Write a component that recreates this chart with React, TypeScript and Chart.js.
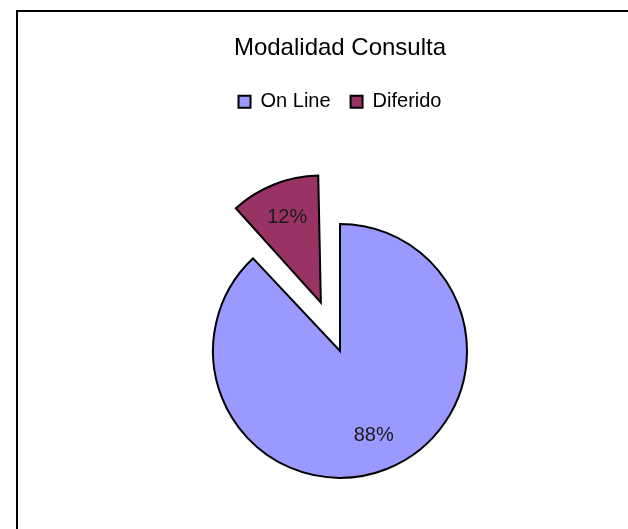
import React, { useEffect, useRef } from "react";
import { Chart, registerables } from "chart.js";

Chart.register(...registerables);

const TITLE = "Modalidad Consulta";
const categories = ["On Line", "Diferido"];
const values = [88, 12];
const colors = ["#9999FF", "#993366"];

const FONT_FAMILY = '"Liberation Sans", Arial, Helvetica, sans-serif';
const EXPLODE_PX = 52; // translation of the exploded slice
const PIE_RADIUS = 127;
const CANVAS_W = 644;
const CANVAS_H = 568;

const explodeFix = {
  id: "explodeFix",
  beforeDatasetsDraw(chart: any) {
    const meta = chart.getDatasetMeta(0);
    const base = meta.controller.outerRadius;
    meta.data.forEach((arc: any) => {
      const off = (arc.options.offset || 0) / 4;
      if (!off) return;
      const circ = arc.endAngle - arc.startAngle;
      const fix = 1 - Math.sin(Math.min(Math.PI, circ));
      arc.outerRadius = base - off * fix;
    });
  },
};

const pctLabels = {
  id: "pctLabels",
  afterDatasetsDraw(chart: any) {
    const meta = chart.getDatasetMeta(0);
    const data = chart.data.datasets[0].data as number[];
    const total = data.reduce((a, b) => a + b, 0);
    const base = meta.controller.outerRadius;
    const ctx = chart.ctx;
    ctx.save();
    ctx.font = `20px ${FONT_FAMILY}`;
    ctx.fillStyle = "#1a1a1a";
    ctx.textAlign = "center";
    ctx.textBaseline = "middle";
    meta.data.forEach((arc: any, i: number) => {
      const mid = (arc.startAngle + arc.endAngle) / 2;
      const off = (arc.options.offset || 0) / 4;
      const r = off + base * 0.72;
      ctx.fillText(
        Math.round((data[i] / total) * 100) + "%",
        arc.x + Math.cos(mid) * r,
        arc.y + Math.sin(mid) * r
      );
    });
    ctx.restore();
  },
};

export default function App() {
  const ref = useRef<HTMLCanvasElement | null>(null);

  useEffect(() => {
    if (!ref.current) return;
    const chart = new Chart(ref.current, {
      type: "pie",
      data: {
        labels: categories,
        datasets: [
          {
            data: values,
            backgroundColor: colors,
            borderColor: "#000000",
            borderWidth: 2,
            borderJoinStyle: "miter",
            radius: PIE_RADIUS,
            offset: (c: any) => (c.dataIndex === 1 ? EXPLODE_PX * 4 : 0),
            hoverOffset: 0,
          } as any,
        ],
      },
      options: {
        responsive: false,
        devicePixelRatio: 1,
        animation: false,
        events: [],
        layout: { padding: 0 },
        plugins: {
          title: {
            display: true,
            text: TITLE,
            color: "#000000",
            font: { family: FONT_FAMILY, size: 24, weight: "normal" },
            padding: { top: 22, bottom: 9 },
          },
          legend: {
            display: true,
            position: "top",
            labels: {
              color: "#000000",
              font: { family: FONT_FAMILY, size: 20 },
              boxWidth: 12,
              boxHeight: 12,
              padding: 20,
            },
          },
          tooltip: { enabled: false },
        },
      } as any,
      plugins: [explodeFix, pctLabels],
    });
    return () => chart.destroy();
  }, []);

  return (
    <div
      style={{
        position: "fixed",
        left: 16,
        top: 10,
        width: 612,
        height: 519,
        boxSizing: "border-box",
        borderLeft: "2px solid #000",
        borderTop: "2px solid #000",
        overflow: "hidden",
        background: "#fff",
      }}
    >
      <canvas
        ref={ref}
        width={CANVAS_W}
        height={CANVAS_H}
        style={{ position: "absolute", left: 0, top: 0, width: CANVAS_W, height: CANVAS_H }}
      />
    </div>
  );
}
